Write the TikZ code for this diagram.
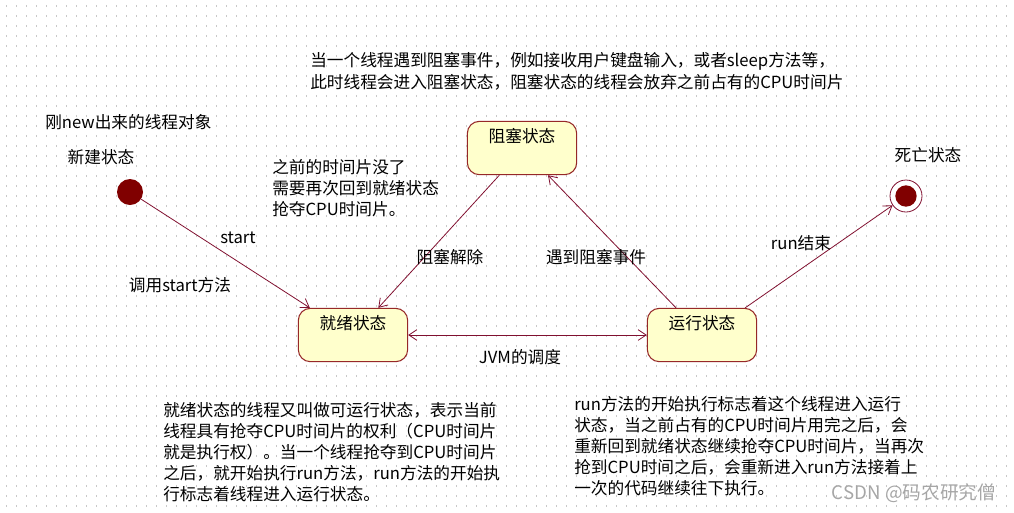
\documentclass[tikz,border=0pt]{standalone}
\usepackage{fontspec}
\setmainfont{Noto Sans CJK SC}
\usetikzlibrary{arrows.meta, positioning, calc}
\definecolor{initred}{RGB}{128,0,0}
\definecolor{edgered}{RGB}{128,16,48}
\definecolor{stateline}{RGB}{150,40,40}
\definecolor{statefill}{RGB}{255,255,204}
\definecolor{dotgray}{RGB}{200,200,200}
\newcommand{\notefont}{\fontsize{12.5}{15.75}\selectfont}

\tikzset{
  stateBox/.style={draw=stateline, fill=statefill, line width=0.8pt, rounded corners=9pt,
    minimum width=82pt, minimum height=40pt, text height=10pt, text depth=18pt, font=\notefont},
  edge/.style={draw=edgered, line width=0.6pt, -{Straight Barb[length=6pt,width=8pt]}},
  tag/.style={font=\notefont, inner sep=0pt},
  note/.style={font=\notefont, align=left, anchor=north west, inner sep=0pt},
  griddot/.style={draw=dotgray, line width=0.9pt, dash pattern=on 0.9pt off 6.6pt}
}

\begin{document}
\begin{tikzpicture}[x=0.75pt, y=-0.75pt]
    \useasboundingbox (0,0) rectangle (1014,512);
    % Dotted background
    \foreach \row in {6,16,...,506} {
        \draw[griddot] (6,\row) -- (1010,\row);
    }

    % States
    \node[stateBox] (blocked) at (522,148) {阻塞状态};
    \node[stateBox] (ready) at (353,335) {就绪状态};
    \node[stateBox] (running) at (702,335) {运行状态};

    % Start and end points
    \node[circle, fill=initred, minimum size=19.5pt, inner sep=0pt] (init) at (130,192) {};
    \node[circle, draw=edgered, fill=white, line width=0.6pt, minimum size=24pt, inner sep=0pt] (final) at (906,196) {};
    \fill[initred] (final) circle (8pt);

    % Transitions
    \draw[edge] (init) -- ([xshift=9pt]ready.north west);
    \draw[edge] ([xshift=-17pt]blocked.south) -- ([xshift=19pt]ready.north);
    \draw[edge] ([xshift=-19.5pt]running.north) -- ([xshift=19.5pt]blocked.south);
    \draw[edge] ([xshift=-9pt]running.north east) -- (final);
    \draw[edge, {Straight Barb[length=6pt,width=8pt]}-{Straight Barb[length=6pt,width=8pt]}] (ready.east) -- (running.west);

    % Labels
    \node[tag] (newLab) at (101,157) {新建状态};
    \node[tag] (deadLab) at (928,155) {死亡状态};
    \node[tag] (startLab) at (238,238) {start};
    \node[tag] (callLab) at (180,285) {调用start方法};
    \node[tag] (unblockLab) at (450,257) {阻塞解除};
    \node[tag] (blockLab) at (596,257) {遇到阻塞事件};
    \node[tag] (runEndLab) at (801,243) {run结束};
    \node[tag] (jvmLab) at (520,357) {JVM的调度};

    % Notes
    \node[note] (newNote) at (45,114) {刚new出来的线程对象};
    \node[note] (blockNote) at (310,52) {当一个线程遇到阻塞事件，例如接收用户键盘输入，或者sleep方法等，\\[1pt]此时线程会进入阻塞状态，阻塞状态的线程会放弃之前占有的CPU时间片};
    \node[note] (backNote) at (272,159) {之前的时间片没了\\需要再次回到就绪状态\\抢夺CPU时间片。};
    \node[note] (readyNote) at (163,402) {就绪状态的线程又叫做可运行状态，表示当前\\线程具有抢夺CPU时间片的权利（CPU时间片\\就是执行权）。当一个线程抢夺到CPU时间片\\之后，就开始执行run方法，run方法的开始执\\行标志着线程进入运行状态。};
    \node[note] (runNote) at (574,396) {run方法的开始执行标志着这个线程进入运行\\状态，当之前占有的CPU时间片用完之后，会\\重新回到就绪状态继续抢夺CPU时间片，当再次\\抢到CPU时间之后，会重新进入run方法接着上\\一次的代码继续往下执行。};

    % Watermark
    \node[font=\fontsize{14}{16}\selectfont, text=gray!70, inner sep=0pt] (mark) at (914,493) {CSDN @码农研究僧};
\end{tikzpicture}
\end{document}
